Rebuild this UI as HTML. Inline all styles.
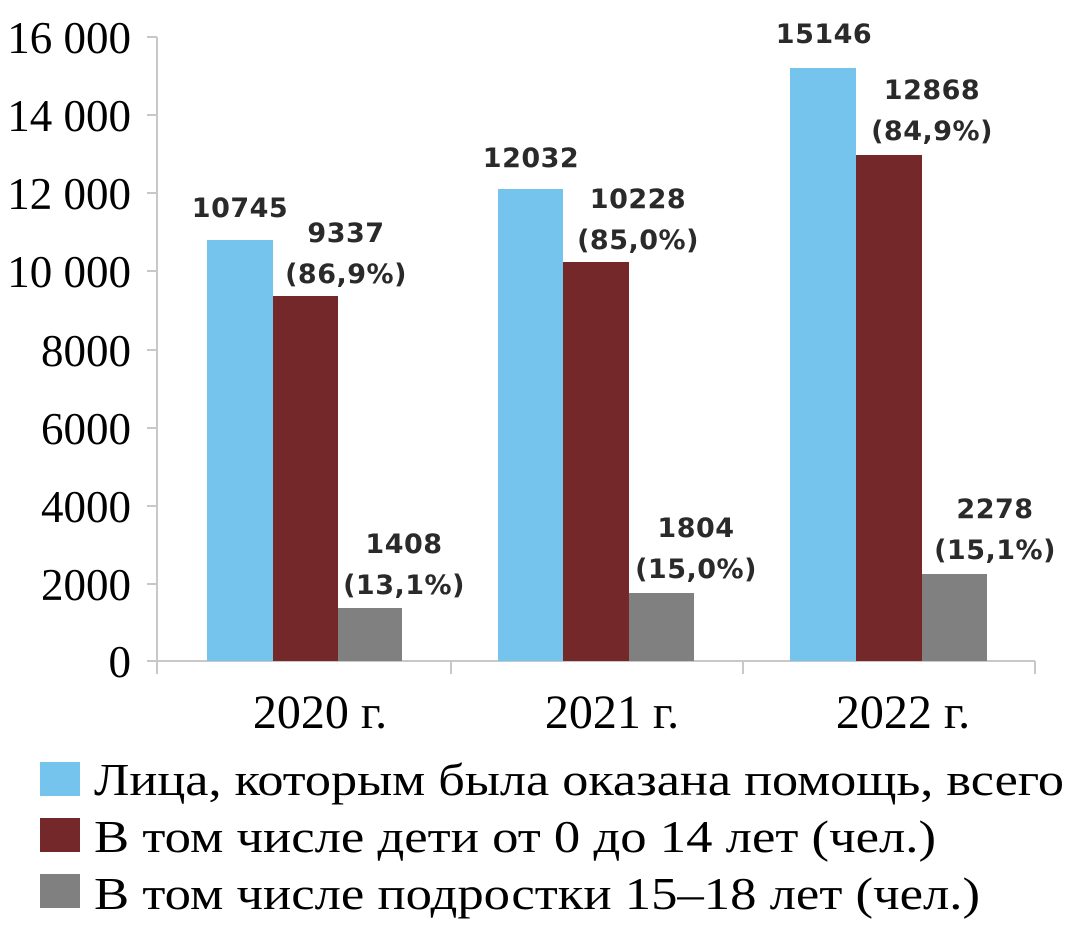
<!DOCTYPE html><html><head><meta charset="utf-8"><style>
body{margin:0;background:#fff;width:1077px;height:925px;overflow:hidden}
</style></head><body>
<svg width="1077" height="925" xmlns="http://www.w3.org/2000/svg">
<g font-family="Liberation Serif, serif" font-size="45" fill="#000" text-anchor="end">
<text x="131" y="53">16 000</text><text x="131" y="131">14 000</text><text x="131" y="209">12 000</text>
<text x="131" y="287">10 000</text><text x="131" y="366">8000</text><text x="131" y="444">6000</text>
<text x="131" y="522">4000</text><text x="131" y="600">2000</text><text x="131" y="677">0</text>
</g>
<g stroke="#c8c8c8" stroke-width="2">
<line x1="157" y1="37" x2="157" y2="674"/>
<line x1="147" y1="661" x2="1035" y2="661"/>
<line x1="147" y1="37" x2="157" y2="37"/><line x1="147" y1="115" x2="157" y2="115"/>
<line x1="147" y1="193" x2="157" y2="193"/><line x1="147" y1="271" x2="157" y2="271"/>
<line x1="147" y1="350" x2="157" y2="350"/><line x1="147" y1="428" x2="157" y2="428"/>
<line x1="147" y1="506" x2="157" y2="506"/><line x1="147" y1="584" x2="157" y2="584"/>
<line x1="451" y1="661" x2="451" y2="674"/><line x1="743" y1="661" x2="743" y2="674"/>
<line x1="1035" y1="661" x2="1035" y2="674"/>
</g>
<g>
<rect x="207" y="240" width="66" height="421" fill="#75c4ee"/>
<rect x="273" y="296" width="65" height="365" fill="#74282a"/>
<rect x="338" y="608" width="64" height="53" fill="#808080"/>
<rect x="498" y="189" width="65" height="472" fill="#75c4ee"/>
<rect x="563" y="262" width="66" height="399" fill="#74282a"/>
<rect x="629" y="593" width="65" height="68" fill="#808080"/>
<rect x="790" y="68" width="66" height="593" fill="#75c4ee"/>
<rect x="856" y="155" width="66" height="506" fill="#74282a"/>
<rect x="922" y="574" width="65" height="87" fill="#808080"/>
</g>
<g font-family="DejaVu Sans, sans-serif" font-weight="bold" font-size="27" fill="#2a2a2a" text-anchor="middle" letter-spacing="0.5">
<text x="240" y="217">10745</text>
<text x="346" y="242">9337</text><text x="346" y="283">(86,9%)</text>
<text x="404" y="553">1408</text><text x="404" y="594">(13,1%)</text>
<text x="531" y="167">12032</text>
<text x="638" y="208">10228</text><text x="638" y="249">(85,0%)</text>
<text x="696" y="537">1804</text><text x="696" y="578">(15,0%)</text>
<text x="824" y="43">15146</text>
<text x="932" y="99">12868</text><text x="932" y="140">(84,9%)</text>
<text x="995" y="518">2278</text><text x="995" y="559">(15,1%)</text>
</g>
<g font-family="Liberation Serif, serif" font-size="48" fill="#000" text-anchor="middle">
<text x="320" y="728">2020 г.</text><text x="612" y="728">2021 г.</text><text x="903" y="728">2022 г.</text>
</g>
<rect x="40" y="762" width="40" height="34" fill="#75c4ee"/>
<rect x="40" y="818" width="40" height="34" fill="#74282a"/>
<rect x="40" y="874" width="40" height="34" fill="#808080"/>
<g font-family="Liberation Serif, serif" font-size="46" fill="#000">
<text x="94" y="795" textLength="970" lengthAdjust="spacingAndGlyphs">Лица, которым была оказана помощь, всего</text>
<text x="94" y="852" textLength="842" lengthAdjust="spacingAndGlyphs">В том числе дети от 0 до 14 лет (чел.)</text>
<text x="94" y="909" textLength="886" lengthAdjust="spacingAndGlyphs">В том числе подростки 15–18 лет (чел.)</text>
</g>
</svg>
</body></html>
